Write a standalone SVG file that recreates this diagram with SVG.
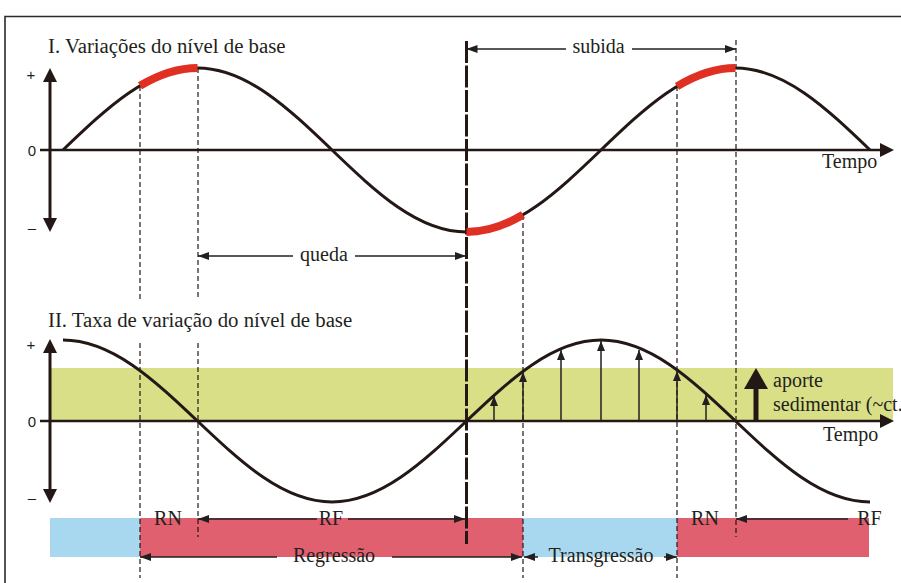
<svg xmlns="http://www.w3.org/2000/svg" width="901" height="583" viewBox="0 0 901 583">
<defs>
<marker id="dim" viewBox="0 0 11 8" refX="11" refY="4" markerWidth="11" markerHeight="8" markerUnits="userSpaceOnUse" orient="auto-start-reverse"><path d="M0,0 L11,4 L0,8 z" fill="#231f20"/></marker>
<marker id="up" viewBox="0 0 10 8" refX="10" refY="4" markerWidth="10" markerHeight="8" markerUnits="userSpaceOnUse" orient="auto"><path d="M0,0 L10,4 L0,8 z" fill="#231f20"/></marker>
</defs>
<style>
.curve{fill:none;stroke:#231815;stroke-width:3}
.red{fill:none;stroke:#e03024;stroke-width:8}
.dash{stroke:#231815;stroke-width:1.2;stroke-dasharray:5 3;fill:none}
.heavy{stroke:#231815;stroke-width:3;stroke-dasharray:22 2.5;fill:none}
.axis{stroke:#231815;stroke-width:3;fill:none}
.haxis{stroke:#231815;stroke-width:2.5;fill:none}
.head{fill:#231815}
.dim{stroke:#231f20;stroke-width:1.5;fill:none;marker-end:url(#dim)}
.dim2{stroke:#231f20;stroke-width:1.5;fill:none;marker-start:url(#dim)}
.va{stroke:#231f20;stroke-width:1.5;fill:none;marker-end:url(#up)}
.t{font-family:"Liberation Serif","Times New Roman",serif;font-size:20px;fill:#231f20}
.tt{font-family:"Liberation Serif","Times New Roman",serif;font-size:20.8px;fill:#231f20}
.s{font-family:"Liberation Sans",Arial,sans-serif;font-size:15px;fill:#231f20}
</style>
<rect width="901" height="583" fill="#ffffff"/>
<g id="frame"><path d="M5,583 V16.5 H901" fill="none" stroke="#2a2a2a" stroke-width="1.6"/></g>

<g id="bands">
<rect x="50" y="368" width="843" height="53" fill="#d9df86"/>
<rect x="50" y="518" width="90" height="39" fill="#a8d8ef"/>
<rect x="140" y="518" width="383" height="39" fill="#e0606f"/>
<rect x="523" y="518" width="154" height="39" fill="#a8d8ef"/>
<rect x="677" y="518" width="192" height="39" fill="#e0606f"/>
</g>

<g id="titles">
<text class="tt" x="48" y="53">I. Variações do nível de base</text>
<text class="tt" x="48" y="327">II. Taxa de variação do nível de base</text>
</g>

<g id="axes1">
<line class="haxis" x1="40" y1="150" x2="882" y2="150"/>
<polygon class="head" points="880,143 894,150 880,157"/>
<line class="axis" x1="50" y1="80" x2="50" y2="220"/>
<polygon class="head" points="43,82 50,68 57,82"/>
<polygon class="head" points="43,218 50,232 57,218"/>
<text class="s" x="31" y="80" text-anchor="middle">+</text>
<text class="s" x="32" y="156" text-anchor="middle">0</text>
<text class="s" x="32" y="233" text-anchor="middle">–</text>
<text class="t" x="822" y="168">Tempo</text>
</g>

<g id="axes2">
<line class="haxis" x1="40" y1="421" x2="882" y2="421"/>
<polygon class="head" points="880,414 894,421 880,428"/>
<line class="axis" x1="50" y1="351" x2="50" y2="491"/>
<polygon class="head" points="43,353 50,339 57,353"/>
<polygon class="head" points="43,489 50,503 57,489"/>
<text class="s" x="31" y="350" text-anchor="middle">+</text>
<text class="s" x="32" y="427" text-anchor="middle">0</text>
<text class="s" x="32" y="503" text-anchor="middle">–</text>
<text class="t" x="823" y="441">Tempo</text>
</g>

<g id="guides">
<line class="dash" x1="140" y1="86" x2="140" y2="299"/>
<line class="dash" x1="140" y1="343" x2="140" y2="578"/>
<line class="dash" x1="198" y1="68" x2="198" y2="299"/>
<line class="dash" x1="198" y1="343" x2="198" y2="537"/>
<line class="dash" x1="523" y1="215" x2="523" y2="578"/>
<line class="dash" x1="677" y1="86" x2="677" y2="578"/>
<line class="dash" x1="736" y1="40" x2="736" y2="537"/>
<line class="heavy" x1="466.5" y1="41" x2="466.5" y2="544"/>
</g>

<g id="curve1">
<path class="curve" d="M63,150 C106.86,108 148.82,68 197.5,68 C246.18,68 288.14,108 332,150 C375.86,192 417.82,232 466.5,232 C515.18,232 557.14,192 601,150 C644.86,108 686.82,68 735.5,68 C784.18,68 826.14,108 870,150"/>
<path class="red" d="M140,85.8 C159.17,74.4 178.33,68 197.5,68"/>
<path class="red" d="M466.5,232 C485.33,232 504.17,225.85 523,214.8"/>
<path class="red" d="M677,86.4 C696.5,74.6 716,68 735.5,68"/>
</g>

<g id="curve2">
<path class="curve" d="M63,340 C111.68,340 153.64,379.5 197.5,421 C241.36,462.5 283.32,502 332,502 C380.68,502 422.64,462.5 466.5,421 C510.36,379.5 552.32,340 601,340 C649.68,340 691.64,379.5 735.5,421 C779.36,462.5 821.32,502 870,502"/>
</g>

<g id="rate-arrows">
<line class="va" x1="494" y1="421" x2="494" y2="396"/>
<line class="va" x1="523" y1="421" x2="523" y2="372"/>
<line class="va" x1="561" y1="421" x2="561" y2="350"/>
<line class="va" x1="601" y1="421" x2="601" y2="341"/>
<line class="va" x1="639" y1="421" x2="639" y2="350"/>
<line class="va" x1="677" y1="421" x2="677" y2="371"/>
<line class="va" x1="706" y1="421" x2="706" y2="395"/>
</g>

<g id="aporte">
<rect x="753.5" y="386" width="5" height="35" fill="#231815"/>
<polygon class="head" points="744,389 756,368 768,389"/>
<text class="t" x="773" y="387">aporte</text>
<text class="t" x="773" y="411">sedimentar (~ct.</text>
</g>

<g id="dimensions">
<line class="dim2" x1="466.5" y1="49" x2="566" y2="49"/>
<line class="dim" x1="632" y1="49" x2="736" y2="49"/>
<text class="t" x="598.5" y="53" text-anchor="middle">subida</text>
<line class="dim2" x1="198" y1="256" x2="293" y2="256"/>
<line class="dim" x1="355" y1="256" x2="466" y2="256"/>
<text class="t" x="324" y="261" text-anchor="middle">queda</text>
<text class="t" x="168" y="525" text-anchor="middle">RN</text>
<line class="dim2" x1="198" y1="519" x2="317" y2="519"/>
<line class="dim" x1="348" y1="519" x2="465" y2="519"/>
<text class="t" x="331" y="525" text-anchor="middle">RF</text>
<text class="t" x="705" y="525" text-anchor="middle">RN</text>
<line class="dim2" x1="736" y1="519" x2="848" y2="519"/>
<text class="t" x="869.5" y="525" text-anchor="middle">RF</text>
<line class="dim2" x1="140" y1="557" x2="277" y2="557"/>
<line class="dim" x1="392" y1="557" x2="522" y2="557"/>
<text class="t" x="334" y="562" text-anchor="middle">Regressão</text>
<line class="dim2" x1="524" y1="557" x2="538" y2="557"/>
<line class="dim" x1="664" y1="557" x2="677" y2="557"/>
<text class="t" x="601" y="562" text-anchor="middle">Transgressão</text>
</g>
</svg>
